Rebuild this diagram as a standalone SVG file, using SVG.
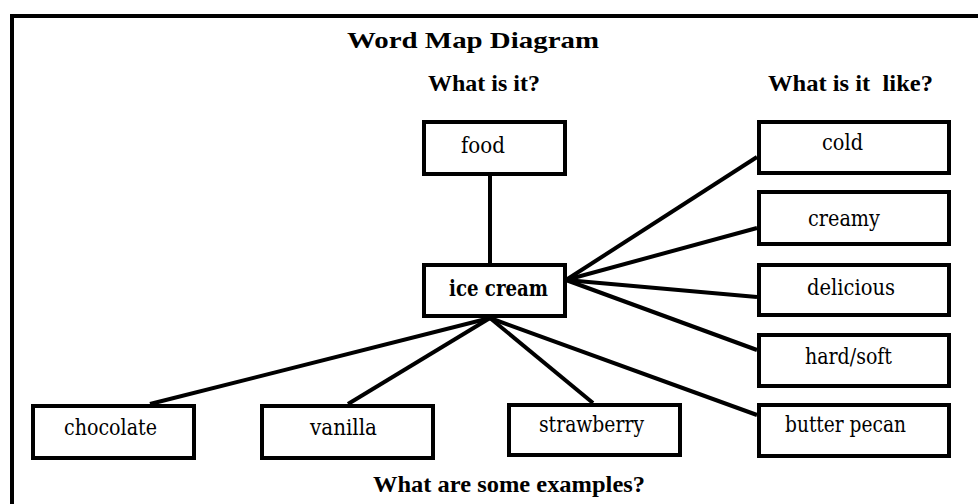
<svg xmlns="http://www.w3.org/2000/svg" width="978" height="504" viewBox="0 0 978 504">
<style>
.box{fill:#fff;stroke:#000;stroke-width:4}
.lbl{font-family:'DejaVu Serif',serif;font-size:22px;fill:#000;text-anchor:middle}
.b{font-weight:bold}
.hd{font-family:'Liberation Serif','DejaVu Serif',serif;font-size:23px;font-weight:bold;fill:#000}
.conn line{stroke:#000;stroke-width:4;stroke-linecap:butt}
</style>
<rect x="0" y="0" width="978" height="504" fill="#fff"/>
<rect x="12" y="16" width="1000" height="600" fill="none" stroke="#000" stroke-width="4"/>
<g id="headings">
<text class="hd" x="347" y="48" font-size="26" textLength="252" lengthAdjust="spacingAndGlyphs">Word Map Diagram</text>
<text class="hd" x="428" y="91" textLength="112" lengthAdjust="spacingAndGlyphs">What is it?</text>
<text class="hd" x="768" y="91" textLength="165" lengthAdjust="spacingAndGlyphs" xml:space="preserve">What is it  like?</text>
<text class="hd" x="373" y="492" textLength="272" lengthAdjust="spacingAndGlyphs">What are some examples?</text>
</g>
<g id="connectors" class="conn">
<line x1="490" y1="176" x2="490" y2="263"/>
<line x1="566" y1="280" x2="757" y2="157"/>
<line x1="566" y1="280" x2="757" y2="228"/>
<line x1="566" y1="280" x2="757" y2="297"/>
<line x1="566" y1="280" x2="757" y2="350"/>
<line x1="490" y1="318" x2="757" y2="415"/>
<line x1="490" y1="318" x2="150" y2="404"/>
<line x1="490" y1="318" x2="348" y2="404"/>
<line x1="490" y1="318" x2="593" y2="403"/>
</g>
<g id="food"><rect class="box" x="424" y="122" width="141" height="52"/><text class="lbl" x="483" y="153" textLength="44" lengthAdjust="spacingAndGlyphs">food</text></g>
<g id="ice-cream"><rect class="box" x="424" y="265" width="141" height="51"/><text class="lbl b" x="498.5" y="296" textLength="99" lengthAdjust="spacingAndGlyphs">ice cream</text></g>
<g id="cold"><rect class="box" x="759" y="122" width="190" height="51"/><text class="lbl" x="842.5" y="150" textLength="41" lengthAdjust="spacingAndGlyphs">cold</text></g>
<g id="creamy"><rect class="box" x="759" y="192" width="190" height="52"/><text class="lbl" x="844" y="226" textLength="72" lengthAdjust="spacingAndGlyphs">creamy</text></g>
<g id="delicious"><rect class="box" x="759" y="265" width="190" height="50"/><text class="lbl" x="851" y="295" textLength="88" lengthAdjust="spacingAndGlyphs">delicious</text></g>
<g id="hard-soft"><rect class="box" x="759" y="335" width="190" height="51"/><text class="lbl" x="848.5" y="364" textLength="87" lengthAdjust="spacingAndGlyphs">hard/soft</text></g>
<g id="butter-pecan"><rect class="box" x="759" y="405" width="190" height="51"/><text class="lbl" x="845.5" y="432" textLength="121" lengthAdjust="spacingAndGlyphs">butter pecan</text></g>
<g id="chocolate"><rect class="box" x="33" y="406" width="161" height="52"/><text class="lbl" x="110.5" y="435" textLength="93" lengthAdjust="spacingAndGlyphs">chocolate</text></g>
<g id="vanilla"><rect class="box" x="262" y="406" width="171" height="52"/><text class="lbl" x="343.5" y="435" textLength="67" lengthAdjust="spacingAndGlyphs">vanilla</text></g>
<g id="strawberry"><rect class="box" x="509" y="405" width="171" height="50"/><text class="lbl" x="591.5" y="432" textLength="105" lengthAdjust="spacingAndGlyphs">strawberry</text></g>
</svg>
